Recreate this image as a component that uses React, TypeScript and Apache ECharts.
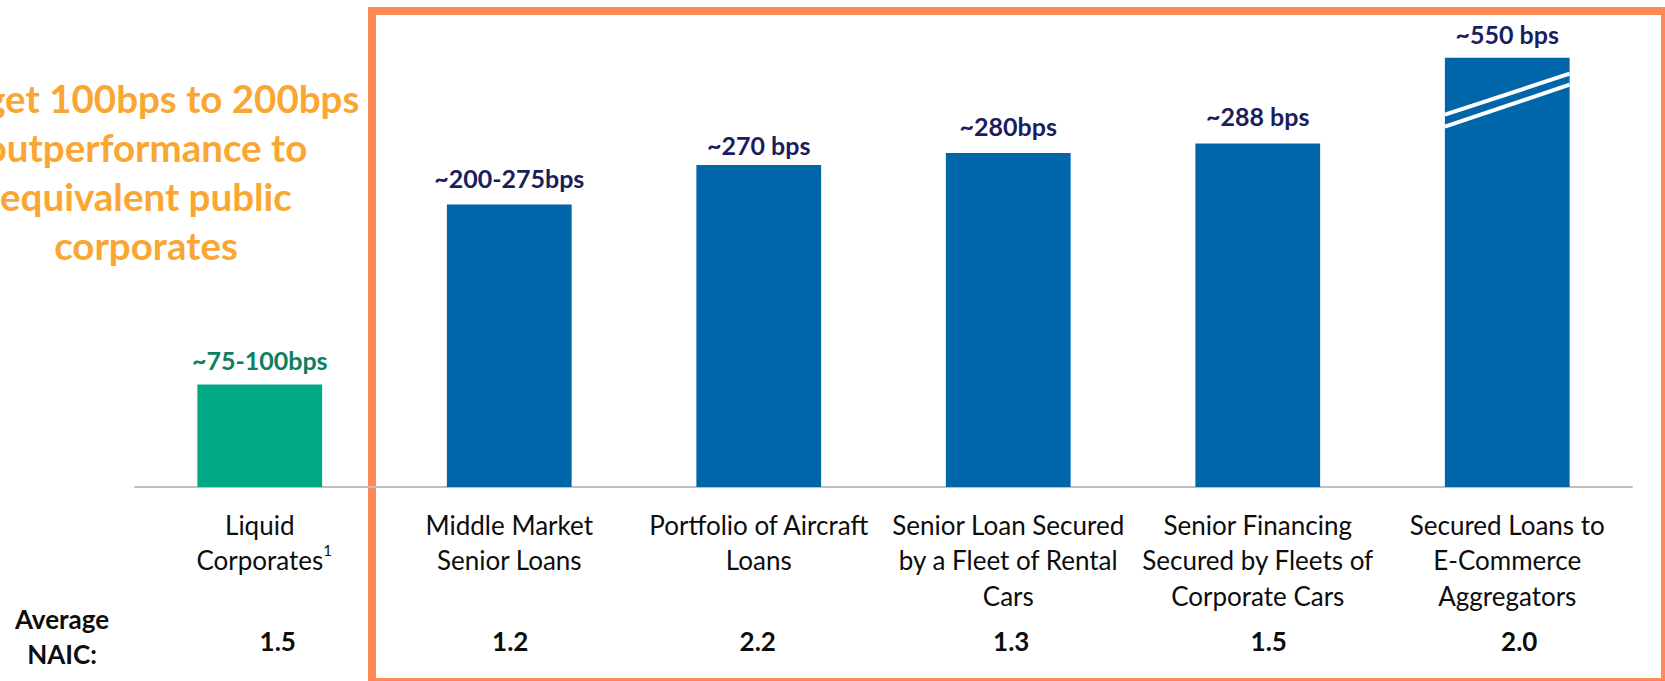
import React, { useEffect, useRef } from "react";
import * as echarts from "echarts";

// ---- data ----
const categories = [
  "Liquid\nCorporates",
  "Middle Market\nSenior Loans",
  "Portfolio of Aircraft\nLoans",
  "Senior Loan Secured\nby a Fleet of Rental\nCars",
  "Senior Financing\nSecured by Fleets of\nCorporate Cars",
  "Secured Loans to\nE-Commerce\nAggregators",
];
const spreadValues = [86, 237, 270, 280, 288, 360];
const spreadLabels = ["~75-100bps", "~200-275bps", "~270 bps", "~280bps", "~288 bps", "~550 bps"];
const naicValues = ["1.5", "1.2", "2.2", "1.3", "1.5", "2.0"];
const footnoteMarks = ["1", "", "", "", "", ""];
const brokenBarIndex = 5;
const naicTitle = ["Average", "NAIC:"];
const titleLines = ["Target 100bps to 200bps", "outperformance to", "equivalent public", "corporates"];

// ---- styles ----
const FONT = "Lato";
const BLUE = "#0066A9";
const GREEN = "#00A984";
const NAVY = "#1A1E5C";
const GREEN_TEXT = "#0C7F5E";
const ORANGE_TITLE = "#F9A633";
const ORANGE_BOX = "#FF8A55";
const TEXT = "#0D0D0D";
const labelGaps = [11.5, 13.5, 7.5, 14.5, 15.5, 11.5];
const naicShift = [18, 1, -1, 3, 11, 12];

export default function App() {
  const ref = useRef<HTMLDivElement>(null);
  useEffect(() => {
    document.body.style.margin = "0";
    if (!ref.current) return;
    const chart = echarts.init(ref.current, undefined, { renderer: "svg" });

    const naicRich: Record<string, any> = {};
    naicShift.forEach((d, i) => {
      naicRich["n" + i] = {
        fontFamily: FONT,
        fontSize: 26,
        fontWeight: "bold",
        color: TEXT,
        lineHeight: 30,
        padding: d >= 0 ? [0, 0, 0, 2 * d] : [0, -2 * d, 0, 0],
      };
    });

    chart.setOption({
      animation: false,
      textStyle: { fontFamily: FONT },
      grid: { left: 135, right: 33, top: 10, bottom: 194, containLabel: false },
      xAxis: [
        {
          type: "category",
          data: categories,
          axisLine: { show: true, lineStyle: { color: "#BFBFBF", width: 2 } },
          axisTick: { show: false },
          axisLabel: {
            interval: 0,
            margin: 20,
            fontFamily: FONT,
            fontSize: 26,
            color: TEXT,
            lineHeight: 35.5,
            formatter: (v: string, i: number) => {
              const mark = footnoteMarks[i];
              if (!mark) return v;
              const lines = v.split("\n");
              const last = lines.pop();
              return [...lines, `{c|${last}}{s|${mark}}`].join("\n");
            },
            rich: {
              c: { fontFamily: FONT, fontSize: 26, color: TEXT, lineHeight: 35.5, padding: [0, 0, 0, 9] },
              s: { fontFamily: FONT, fontSize: 15, color: TEXT, lineHeight: 10, verticalAlign: "top" },
            },
          },
        },
        {
          type: "category",
          data: naicValues,
          position: "bottom",
          axisLine: { show: false },
          axisTick: { show: false },
          axisLabel: {
            interval: 0,
            margin: 139,
            formatter: (v: string, i: number) => `{n${i}|${v}}`,
            rich: naicRich,
          },
        },
      ],
      yAxis: { type: "value", min: 0, max: 400, show: false },
      series: [
        {
          type: "bar",
          xAxisIndex: 0,
          barWidth: "50%",
          data: spreadValues.map((v, i) => ({
            value: v,
            itemStyle: { color: i === 0 ? GREEN : BLUE },
            label: { color: i === 0 ? GREEN_TEXT : NAVY, distance: labelGaps[i] },
          })),
          label: {
            show: true,
            position: "top",
            fontFamily: FONT,
            fontSize: 25,
            lineHeight: 25,
            fontWeight: "bold",
            formatter: (p: any) => spreadLabels[p.dataIndex],
          },
        },
        {
          type: "custom",
          xAxisIndex: 0,
          silent: true,
          z: 5,
          data: [[brokenBarIndex, spreadValues[brokenBarIndex]]],
          renderItem: (_params: any, api: any) => {
            const p = api.coord([api.value(0), api.value(1)]);
            const w = api.size([1, 0])[0] * 0.5;
            const x0 = p[0] - w / 2;
            const x1 = p[0] + w / 2;
            const t = p[1];
            return {
              type: "group",
              children: [
                { type: "line", shape: { x1: x0, y1: t + 57, x2: x1, y2: t + 16 }, style: { stroke: "#FFFFFF", lineWidth: 4 } },
                { type: "line", shape: { x1: x0, y1: t + 69, x2: x1, y2: t + 27 }, style: { stroke: "#FFFFFF", lineWidth: 4 } },
              ],
            };
          },
        },
      ],
      graphic: [
        {
          type: "text",
          x: 146,
          y: 171,
          style: {
            text: titleLines.join("\n"),
            fill: ORANGE_TITLE,
            font: `bold 38.5px ${FONT}`,
            lineHeight: 49,
            textAlign: "center",
            textVerticalAlign: "middle",
          },
        },
        {
          type: "text",
          x: 62,
          y: 636,
          style: {
            text: naicTitle.join("\n"),
            fill: TEXT,
            font: `bold 26px ${FONT}`,
            lineHeight: 35,
            textAlign: "center",
            textVerticalAlign: "middle",
          },
        },
        {
          type: "rect",
          shape: { x: 372, y: 11, width: 1293, height: 671 },
          style: { fill: "none", stroke: ORANGE_BOX, lineWidth: 8 },
          silent: true,
        },
      ],
    });
    return () => chart.dispose();
  }, []);
  return <div ref={ref} style={{ width: 1665, height: 681 }} />;
}
